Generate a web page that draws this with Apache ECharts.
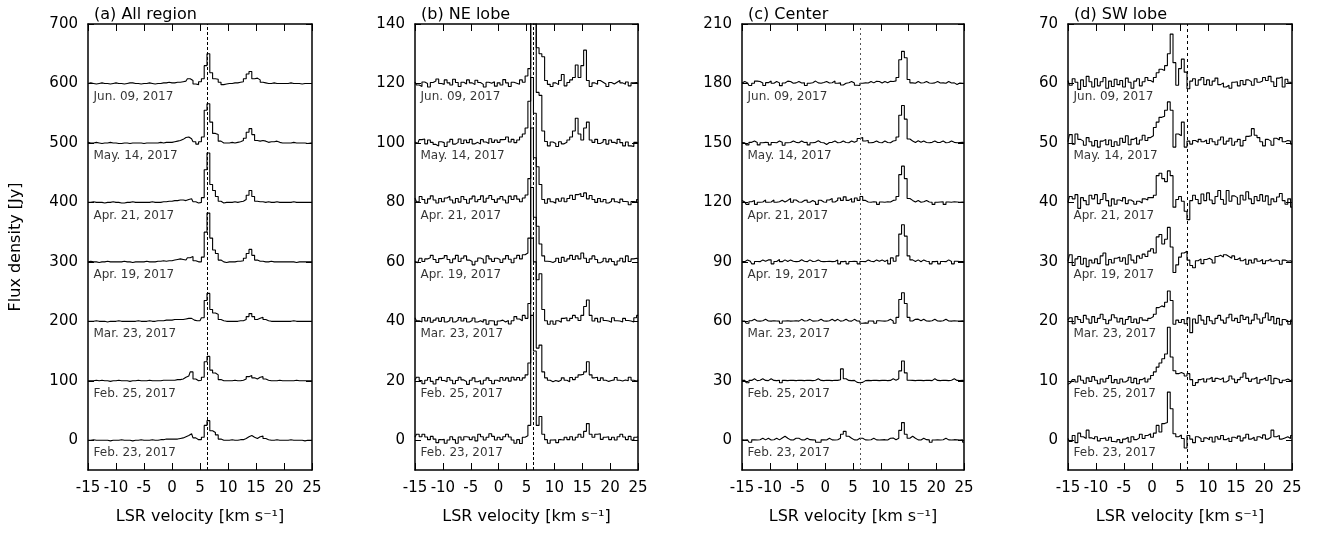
<!DOCTYPE html>
<html>
<head>
<meta charset="utf-8">
<script src="https://cdn.jsdelivr.net/npm/echarts@6/dist/echarts.min.js"></script>
<style>
  html, body { margin: 0; padding: 0; background: #fff; }
  #chart { width: 1325px; height: 534px; }
</style>
</head>
<body>
<div id="chart"></div>
<script>
// velocity channels [km/s], shared by all spectra
const velocity = [
  -15, -14.5, -14, -13.5, -13, -12.5, -12, -11.5, -11, -10.5,
  -10, -9.5, -9, -8.5, -8, -7.5, -7, -6.5, -6, -5.5,
  -5, -4.5, -4, -3.5, -3, -2.5, -2, -1.5, -1, -0.5,
  0, 0.5, 1, 1.5, 2, 2.5, 3, 3.5, 4, 4.5,
  5, 5.5, 6, 6.5, 7, 7.5, 8, 8.5, 9, 9.5,
  10, 10.5, 11, 11.5, 12, 12.5, 13, 13.5, 14, 14.5,
  15, 15.5, 16, 16.5, 17, 17.5, 18, 18.5, 19, 19.5,
  20, 20.5, 21, 21.5, 22, 22.5, 23, 23.5, 24, 24.5, 25,
];

const dates = ["Feb. 23, 2017", "Feb. 25, 2017", "Mar. 23, 2017", "Apr. 19, 2017", "Apr. 21, 2017", "May. 14, 2017", "Jun. 09, 2017"];
const titles = ["(a) All region", "(b) NE lobe", "(c) Center", "(d) SW lobe"];
const refVelocity = 6.3;

// baseline shift of each date and y tick labels, per panel
const offsetsAll = [0, 100, 200, 300, 400, 500, 600];
const offsetsNE = [0, 20, 40, 60, 80, 100, 120];
const offsetsCenter = [0, 30, 60, 90, 120, 150, 180];
const offsetsSW = [0, 10, 20, 30, 40, 50, 60];
const ticksAll = [0, 100, 200, 300, 400, 500, 600, 700];
const ticksNE = [0, 20, 40, 60, 80, 100, 120, 140];
const ticksCenter = [0, 30, 60, 90, 120, 150, 180, 210];
const ticksSW = [0, 10, 20, 30, 40, 50, 60, 70];

// (a) All region [Jy]
const allFeb23 = [
  0, 0, 1, 0, 0, 0, 0, 0, -1, 0,
  0, 0, 1, 0, 0, 0, -1, 0, 0, 1,
  0, 0, 0, 1, 0, 0, 1, 1, 2, 2,
  2, 2, 2, 3, 4, 6, 8, 11, 4, 1,
  1, 5, 25, 33, 16, 13, 9, 2, 0, 0,
  0, 1, 0, 0, 1, 1, 3, 6, 8, 5,
  3, 6, 7, 3, 1, 0, 0, 1, 0, 0,
  0, 0, 1, 0, 0, 0, 0, -1, 0, 0, 0,
];
const allFeb25 = [
  0, 0, 0, 1, 0, 1, 0, 0, -1, 0,
  0, 1, 0, 0, 0, -1, 0, 0, 1, 0,
  0, 0, 1, 0, 0, 0, 0, 1, 1, 1,
  1, 1, 2, 2, 3, 6, 8, 15, 3, 0,
  1, 6, 32, 41, 18, 13, 10, 2, 0, 0,
  0, 0, 1, 0, 0, 1, 3, 7, 9, 5,
  3, 6, 7, 3, 1, 0, 0, 0, 1, 0,
  0, 0, 0, 0, 1, 0, 0, 0, 0, 0, 0,
];
const allMar23 = [
  0, 0, 0, 1, 0, 0, 0, -1, 0, 0,
  0, 1, 0, 0, 0, 0, 0, 0, 1, 0,
  0, 0, 1, 0, 0, 1, 1, 1, 2, 2,
  2, 3, 3, 3, 3, 4, 5, 5, 2, 1,
  1, 6, 35, 47, 20, 14, 12, 3, 1, 0,
  0, 0, 0, 0, 1, 1, 3, 8, 13, 8,
  3, 5, 7, 3, 1, 0, 0, 0, 0, 0,
  0, 0, 0, 1, 0, 0, 0, 0, 0, 0, 0,
];
const allApr19 = [
  0, 1, 0, 0, -1, 0, 0, 1, 0, 0,
  0, 0, 0, 1, 0, 0, -1, 0, 0, 0,
  0, 1, 0, 0, 0, 1, 1, 2, 1, 2,
  2, 3, 4, 5, 4, 3, 7, 9, 2, 0,
  0, 8, 50, 82, 40, 20, 14, 3, 0, -1,
  0, 0, 0, 1, 1, 2, 6, 14, 21, 11,
  3, 1, 1, 0, 0, 1, 0, 0, 0, 0,
  0, 0, 0, 0, -1, 0, 0, 0, 0, 0, 0,
];
const allApr21 = [
  0, 0, 1, 0, 0, 0, -1, 0, 0, 1,
  0, 0, -1, -1, 0, 0, 1, 0, 0, 0,
  0, 0, 0, 1, 0, 0, 0, 1, 1, 2,
  2, 3, 3, 4, 4, 3, 5, 6, 1, -1,
  0, 8, 55, 83, 30, 20, 10, 2, -1, 0,
  0, 0, 1, 0, 1, 2, 5, 12, 20, 10,
  2, 1, 1, 0, 1, 0, 0, 1, 0, 0,
  0, 0, 0, 1, 0, 0, 0, 0, 0, 0, 0,
];
const allMay14 = [
  1, 0, 0, 1, 0, -1, 0, 0, 1, 0,
  0, -1, -1, 0, 0, -1, 0, 0, 0, 0,
  -1, 0, 0, 0, 0, 0, 1, 0, 1, 1,
  1, 2, 3, 4, 6, 9, 10, 7, 2, -2,
  2, 10, 55, 66, 35, 16, 14, 3, 0, 0,
  0, 1, 0, 1, 2, 4, 8, 18, 24, 14,
  4, 3, 4, 3, 1, 2, 2, 3, 1, 0,
  0, 0, 0, 1, 0, 0, 0, 0, -1, 0, 0,
];
const allJun09 = [
  0, 1, 0, -1, 0, 1, 0, 0, -1, 0,
  1, 0, 0, -1, 0, 1, 1, 0, 0, -1,
  0, 0, 1, 0, -1, 0, 0, 1, 1, 2,
  1, 1, 2, 2, 3, 4, 8, 5, -1, -2,
  3, 8, 30, 50, 18, 8, 7, 2, -2, -1,
  0, 0, 1, 1, 2, 3, 8, 16, 20, 8,
  9, 6, 2, 1, 0, 0, 1, 0, 0, 0,
  0, 0, 1, 0, 0, 0, -1, 0, 0, 0, 0,
];

// (b) NE lobe [Jy]
const neFeb23 = [
  1, 2, 1.2, 2, 1.1, 0.2, 1.3, 0.4, -0.8, 0.2,
  0.3, -1, 0.1, 1.2, 0.2, -1, 1.1, 0.1, 1.2, 1,
  0.2, 1.1, -0.2, 2, 1.2, 0.1, 1, 2.2, 1.3, 0.1,
  1, 0.2, 1.2, 2, 1.1, 0.1, -1, 0.2, -1.1, 1,
  1.5, 5, 42, 30, 5, 8, 2, 0.2, -1, 0.1,
  0.2, -0.8, 0.2, 0.1, 1, 0.2, 1.2, 0.1, 1, 2,
  1, 3, 5.6, 2, 1, 2, 2.2, 0.3, 1, 1.2,
  0.2, 1, 0.1, 1.2, 2, 1.1, 0.2, 1.3, 0.1, 1, 1.2,
];
const neFeb25 = [
  0.3, 1.2, 0.1, -1, 0.2, 1.1, -0.2, -1.1, 0.4, 1.2,
  0.1, -0.3, 1.1, 0.2, -1, 0.1, 1.2, 0.3, -0.2, -1.2,
  0.2, 1, -0.3, 0.1, -1.1, 0.2, 1, 0.1, -1, 0.2,
  -0.2, 1.1, 0.2, 1, -0.1, 1.2, 0.3, 1.1, 0.2, 1,
  2, 6, 48, 40, 11, 12, 3, 1, 0.2, -0.3,
  0.1, -0.2, 0.3, 1, 0.2, -0.3, 1.1, 0.4, 1.2, 2,
  2.2, 3, 6.4, 2, 1, 1.2, 0.1, 1, 0.2, -0.2,
  0.1, 0.3, 1.1, 0.2, -0.1, 0.3, 0, 1.2, 0.2, -0.1, 0.3,
];
const neMar23 = [
  1.2, 0.2, -0.2, 1.3, 0.1, 1.2, -0.3, 0.4, 1.1, 0,
  1.3, -0.2, 0.3, 1.2, -0.2, 0.4, 1.3, 0.1, 1, -0.2,
  0.3, 1.1, -0.2, 0.2, -0.3, 0.5, -1, 0.2, 0.1, -1.2,
  0.1, 0.4, -0.2, 0.3, -0.9, 0.2, 1.6, 0.8, 0.2, 2,
  1, 6, 45, 35, 14, 16, 4, 0.2, -1, 0.1,
  -1, 0.2, -0.3, 1, 1.2, 0.2, 1, 2, 1.2, 0.3,
  2, 5, 7.2, 2, 0.1, 1, -0.2, 1.2, 0.3, 0.1,
  -0.3, 1.2, 0.2, 0.1, -0.2, 1, 0.3, 0.1, -0.2, 1.2, 2,
];
const neApr19 = [
  0.2, -0.3, 1.2, 0.1, 1, 1.4, 2.2, 0.8, -0.2, 1.1,
  1.3, 2.1, 0.8, -0.3, 1, 2.2, 0.1, 1.2, 2, 0.6,
  0.1, -1, 0.2, 1.3, 0.9, -0.4, 2, 1, 0.1, 1.2,
  0.8, -0.2, 1, 2.1, 0.9, -0.3, 1.2, 2.2, 1, 2.4,
  3, 8, 45, 35, 12, 6, 2, 0.2, 0.1, -0.2,
  0.3, 1.2, -0.2, 1.5, 0.2, 1, 2.2, 0.8, 2, 1,
  3, 1.2, -0.2, 1, 2, 0.8, -0.3, 0.2, 1.2, 0,
  1, 0.1, -1, 0.3, 1.2, 0, 2, 0.1, 1, 1.2, 1,
];
const neApr21 = [
  1.5, 0.2, 2, 1, -0.3, 1.2, 2.2, 0.8, -0.2, 1.3,
  0.2, 1.5, 2.1, 0.8, -0.2, 1.3, 0.1, 2, 1, -0.3,
  1.2, 2.1, 0.2, 1, 2.2, 0.1, 1.4, 2.3, 1, 0,
  1.2, 2, 0.8, -0.2, 2.1, 1, 2.2, 1.1, 0.2, 1.5,
  2.5, 8, 42, 30, 12, 6, 1, -0.3, 1.2, 0.2,
  -0.3, 1.2, 0.4, 1.5, 0.2, 1.3, 2.4, 1, 2.6, 3,
  2, 3.2, 1.2, 2.3, 1, 0, 1.3, 0.2, 1, -0.2,
  0.4, 1.2, 0.2, -0.2, 1.1, 0.3, 0.2, -0.8, 0.3, 0.1, 1,
];
const neMay14 = [
  0.3, -0.2, 1.1, 1.3, -0.3, 1, 0.2, -0.5, -1, 0.4,
  0.1, -1.2, 0.3, 1.2, -0.4, 0.2, 1.3, -0.2, 1, 0.1,
  1.2, -0.3, 0.2, -0.4, 1.1, 0.3, -0.2, 1.4, 0.2, 1,
  0.2, 1.1, 1.2, 2, 0.3, 1.2, 0.1, 1, 2, 3,
  5, 14, 45, 40, 17, 16, 4, 0.5, -1, 0.3,
  -0.2, -1.2, 0.4, -0.3, 0.2, 1, 2, 4, 8.3, 3,
  1, 5, 7, 1, 0.2, 1.2, -0.2, 0.3, 1.1, -0.4,
  1, 0.2, -0.3, 1.2, 0.1, -1, 0.3, -1, -1.2, 0.2, 0,
];
const neJun09 = [
  0.5, -0.5, -1, 0.5, 0, -1.2, 0.3, 0.8, 1.5, 0,
  -0.3, 1.2, 0.2, -0.5, 1.4, 0.3, -1, 0.4, -0.2, 1.2,
  0.2, -0.4, 1.1, 0.3, -0.3, -1.2, 0.4, 0.1, 0.6, -0.9,
  0.2, -0.5, 1.3, 0.2, -1, 0.4, 0.1, -0.3, 1.2, 0.4,
  2.5, 5, 50, 45, 12, 10, 9, 1, -0.3, -1,
  0.2, -0.4, 1, 3, -0.8, 0.3, 1.2, 2, 6.2, 2,
  6, 11.2, 1, -1, 0.2, -0.3, 1, 0.4, -0.2, -1,
  0.3, -0.2, 0.4, 1, 0.2, -0.3, 0.5, -0.8, 0.2, 0.3, 0,
];

// (c) Center [Jy]
const cenFeb23 = [
  0.2, 0.1, 0.3, -1, 0.2, 0.1, 0.3, 1, 0.2, 1,
  0.1, 0.3, 1, 0.2, 1.1, 2, 1, 0.2, 0.1, 1,
  1, 0.2, 0.1, 1, 0.3, 0.2, 0.1, -1, -1, 0.2,
  0.1, 1, 0.2, 0.1, 0.3, 1, 3, 4.5, 2, 1,
  0.2, 0.1, 1, 1, 0.2, 0.1, 0.3, 1, 0.2, 0.1,
  0.2, 0.3, 0.1, 1, 1.1, 0.3, 1, 5, 8.9, 3,
  1, 2, 1, 0.2, 0.1, 1, 0.3, 0.2, -1, 0.1,
  0.2, 0.1, 0.3, 1, 0.2, 0.1, 0.3, 0.2, 0.1, 0.3, -1,
];
const cenFeb25 = [
  0.2, 0.3, -1, 0.2, 1, 0.1, 0.3, 1, 0.2, 0.1,
  1, 0.2, 0.1, 0.3, -1, 0.2, 0.1, 0.3, 0.2, 0.1,
  0.3, 0.2, 0.1, 0.3, 0.2, 0.1, 0.3, 1, 0.2, 0.1,
  0.3, 0.2, 0.1, 0.3, 0.2, 0.5, 6, 1, 0.2, 0.1,
  0.2, -0.8, -1, -0.8, 0.1, 0.2, 0.1, 0.3, 0.2, 0.1,
  0.2, 0.3, 0.1, 0.2, 1, 0.3, 1, 5, 10, 4,
  0.3, 0.2, 0.1, 0.3, 0.2, 0.1, 0.3, 0.2, 0.1, 1,
  0.2, 0.1, 0.3, 0.2, 0.1, 0.3, 1, 0.2, 0.1, 0.3, 0,
];
const cenMar23 = [
  0.2, 0.1, -1, 0.3, 1, 0.2, 0.1, 0.3, 1, 0.2,
  0.1, 0.3, 0.2, 0.1, -1, 0.2, 0.3, 0.1, 0.2, 0.3,
  0.1, 1, 0.2, 0.3, 1, 0.1, 0.2, 0.3, 1, 0.2,
  0.1, 0.3, 1, 0.2, 1, 0.1, 0.3, 1, 0.2, 0.1,
  1, 0.2, 0.1, -1, -0.8, -1, 0.2, 0.1, -1, 0.3,
  0.2, 0.1, 0.3, 1, 0.2, -1, 2, 11, 14.4, 9,
  2, 0.2, 1, 1.1, 0.3, 1, 0.2, 0.1, 0.3, 1,
  0.2, 0.1, 0.3, 1, 0.2, 0.1, 0.3, 0.2, 0.1, 0.3, 0,
];
const cenApr19 = [
  0.2, 0.1, 1, 0.3, -1, 0.2, 0.1, 1, 0.3, 1,
  1.1, -1, 0.2, 1.2, 0.1, 1, 0.2, 1, 0.3, 0.1,
  0.2, 1.1, 0.3, 0.1, 1, 0.2, 0.3, 1, 0.2, 0.1,
  0.2, 0.3, 0.1, 0.2, 1, -1, 0.1, 0.3, -1, 0.2,
  0.3, 0.1, -1, 0.2, 0.1, 1, 0.3, 0.1, 1, 0.3,
  1, 0.2, 1, -1, 2, 0.3, 3, 14, 18.7, 13,
  3, 1, 0.2, 1, 0.1, 1, 0.3, 0.2, -1, 0.1,
  0.3, -1, 0.2, 0.1, 1, 0.2, -1, 0.3, 0.1, 0.2, 0,
];
const cenApr21 = [
  1, 0.2, -1, 0.3, 1, -1, 0.1, 0.2, 1.2, 0.1,
  0.2, 1.2, 0.1, 0.3, 1.1, 0.2, 1, 2, 0.1, 1.2,
  0.2, 0.1, 1, 1.2, 0.1, 1, 0.2, -1, 1.1, 0.2,
  0.1, 1.2, 2, 0.2, 1.1, 2.2, 1, 2.8, 1, 2,
  0.2, 2.2, 1, 3, 1, 0.2, 0.1, 0.3, 0.2, -1,
  0.2, 0.1, 0.3, 0.2, 1, 1.2, 3, 14, 18.3, 12,
  2, 1, 0.2, 1, 0.1, 0.3, 1, 0.2, 0.1, -1,
  0.1, 0.2, 0.3, -1, 0.2, 0.1, 0.3, 0.2, 0.1, 0.2, 0,
];
const cenMay14 = [
  0.2, 0.1, -1, 0.3, 1, 0.2, -1, 0.1, 0.3, 0.2,
  -1, 0.2, 0.1, 1, 0.3, -1.2, 0.1, 0.2, 1, 0.3,
  0.1, 1, 0.2, 0.3, -1, 0.1, 0.3, 1.1, 0.2, 0.1,
  -0.8, 0.2, 0.3, 1, 0.1, 0.2, 1, 0.2, 0.1, 1,
  0.3, 1, 2.2, 2.7, 1, 1.2, 0.1, 0.3, 1, 0.2,
  0.1, 1, 0.2, 0.1, 1, 1.2, 3, 14, 18.9, 12,
  2, 1, 0.2, 1.1, 0.3, 1, 0.2, 0.1, 0.3, 1,
  0.2, 0.3, 1, 0.1, 0.2, 1, 0.3, 0.1, 0.2, 0.3, 0,
];
const cenJun09 = [
  0.2, 1, 0.3, -1, 0.1, 1.2, 1, 0.2, -1, 0.4,
  1.2, 0.1, 1, 0.3, -1.1, 0.2, 1.2, 1, 0.1, 0.3,
  1, 0.2, 0.3, -1, 0.1, 0.4, 1.2, 0.3, 0.1, 0.5,
  1, 0.2, 0.4, 1.2, 0.1, 0.3, -0.8, 0.1, 0.4, 1,
  0.2, -0.9, -1, 0.1, 0.3, 0.2, 1, 0.3, 1.1, 1,
  0.2, 1, 0.4, 1.1, 1, 1.3, 3, 12, 16.2, 13,
  2, 0.3, 0.1, 1, 0.2, 0.4, 1, 0.2, 0.1, 0.3,
  1, 0.2, 0.3, 0.1, 1, 0.2, 0.3, -0.5, 0.2, 0.1, 0,
];

// (d) SW lobe [Jy]
const swFeb23 = [
  0.3, -0.2, 0.8, -0.4, 1.2, 0.6, 0.3, 1.7, 0.4, 0.2,
  0.6, -0.1, 0.3, 0.4, 0, 0.5, -0.2, -0.3, 0.1, -0.4,
  0.2, 0.5, -0.3, 0.6, 0.1, 0.4, 1, 0.3, 0.8, 1.1,
  0.5, 1.2, 2.5, 1.4, 2.8, 3, 8.1, 5.3, 1.1, 0.6,
  0.9, 0.3, -1.3, 0.8, 0.2, -0.4, 0.6, 0.3, -0.2, 0.4,
  0.1, 0.5, -0.3, 0.6, 0.2, 0.8, 0.1, 0.4, -0.2, 0.5,
  0.3, 0.7, -0.1, 0.4, 1, 0.2, 0.5, 0, 0.6, 0.3,
  0.9, 0.2, 0.5, 1.7, 0.6, 0.8, 0.2, 0.4, 0.6, 0.3, 0.8,
];
const swFeb25 = [
  -0.6, -0.3, 0.2, -0.2, 0.8, 0.1, -0.4, 0.5, -0.1, 0.7,
  0.1, -0.5, 0.3, -0.2, 0.4, 0.9, -0.3, 0.2, -0.4, 0.3,
  -0.2, 0.1, 0.6, -0.3, 0.4, -0.5, 0.2, 0.5, -0.2, 0.3,
  0.9, 1.5, 2.3, 3, 3.7, 4.5, 9, 4, 1.7, 1.2,
  1.4, 1.2, 0.8, 1.2, 0.2, -0.8, -0.3, 0.2, 0.4, -0.2,
  0.3, 0.6, -0.1, 0.4, 0.2, 0.5, -0.2, 0.1, 0.8, 0.3,
  -0.3, 0.2, 0.6, 1.3, 0.4, -0.1, 0.3, 0.6, -0.4, 0.2,
  0.5, 0.1, 0.9, -0.5, 0.4, 0.2, -0.3, 0.1, 0.3, 0, 0.2,
];
const swMar23 = [
  0.2, 0.6, -0.4, 0.8, 0.3, -0.2, 1, 0.4, -0.3, 0.8,
  -0.2, 0.5, 1.2, 0.3, -0.4, 0.2, 1.1, 0.6, -0.1, 0.5,
  -0.5, 0.3, 0.8, -0.2, 0.4, -0.3, 0.6, 0.2, 0.1, 0.5,
  0.8, 1.2, 2.3, 2.6, 2.4, 3.2, 5.1, 3.5, -0.5, 0.2,
  -0.2, 0.3, -0.4, 0.6, -1.9, 0.4, -0.3, 1, 0.2, -0.5,
  0.8, 0.1, -0.4, 0.5, 1, 0.2, -0.3, 0.6, 1.2, 0.1,
  0.5, -0.2, 1, 0.3, 0.7, -0.4, 0.2, 1.2, 0.4, -0.3,
  0.6, 1.4, 0.2, 0.8, -0.4, 0.5, -0.6, 0.3, 0.1, -0.5, 0.2,
];
const swApr19 = [
  0.1, 1.2, -0.6, 0.5, 0.9, -0.4, 0.6, -0.8, 0.3, -0.2,
  0.5, -0.3, 1, 1.5, -0.5, 0.4, -0.2, 0.6, 0.8, 0.1,
  0.7, -0.4, 1.2, 0.3, -0.2, 1, 0.6, 1.3, 0.9, 1.8,
  2.2, 1.5, 4.2, 4.6, 3, 3.8, 5.8, 2.5, -1.8, -0.5,
  0.8, 1.5, 1.8, 0.3, -0.6, -1, 0.2, 0.5, -0.3, 0.4,
  0.6, 0.3, -0.2, 0.9, 1.1, 0.8, 1.2, 0.9, 0.6, 1,
  0.4, 0.7, 0.2, 0.5, -0.4, 0.3, -0.2, 0.5, 0.1, 0.4,
  -0.3, 0.2, 0.5, 0.1, 0.3, 0.2, -0.4, 0.3, 0.1, 0.2, 0,
];
const swApr21 = [
  0, 1, 0.6, 1.3, -1, 0.8, 0.3, -0.4, 1.2, 0.6,
  1.3, -0.2, 0.5, 1.5, 0.3, -0.6, 0.6, -0.3, 0.4, 0.2,
  0.8, -0.2, 0.4, 0.1, -0.3, 0.2, -0.1, 0.6, 0.4, 0.8,
  0.8, 1.2, 4.5, 4.9, 4, 3.5, 5.3, 4.5, -0.8, 0.5,
  1, 0.2, -1.5, -2.9, 0.3, 1.2, 0.5, -0.2, 1.4, 0.3,
  1.6, 0.4, -0.2, 1, 2, 0.5, -0.3, 2, 0.2, 1.1,
  0.8, -0.3, 1.2, 0.4, 1.8, 0.6, -0.2, 1, 0.3, 1.3,
  0.2, 1.1, -0.4, 0.6, 0.1, 0.9, 1.5, 0.3, -0.3, 0.6, -0.8,
];
const swMay14 = [
  0.2, 1.4, -0.2, 1.5, 0.6, 0.3, -0.4, 0.9, 0.2, -0.5,
  0.4, -0.7, 0.3, 0.6, -0.3, 0.5, -0.6, 0.2, -0.4, 0.8,
  0.1, 1.2, -0.3, 0.6, 0.9, -0.2, 0.5, 1.3, 0.4, 0.9,
  1.2, 2.6, 3.5, 4.3, 4.5, 5.5, 6.9, 5.5, -0.7, 1.5,
  1.2, 3.5, -0.7, 0.3, -0.2, 0.4, 0.1, 0.6, 0.2, 0.5,
  -0.1, 0.7, 0.2, -0.3, 0.5, 1, -0.2, 0.3, 0.8, -0.4,
  0.2, 0.6, -0.5, 0.4, 1.1, 1.2, 2.4, 1.3, 0.9, 0.2,
  -0.5, 0.6, 0.3, -0.4, 0.8, 0.5, 0.9, 0.2, 0.4, 0.3, -0.2,
];
const swJun09 = [
  0.5, -0.3, 0.8, 0.2, -1, 0.6, -0.5, 1.2, 0.3, -0.6,
  0.8, -0.4, 0.3, 1, -0.8, 0.4, -0.5, 0.7, -0.2, 0.5,
  -0.6, 0.9, 0.2, -0.8, 0.4, 0.8, -0.4, 0.3, 1, 0.5,
  0.2, 1, 1.8, 2.4, 2.2, 3, 5, 8.3, 3.5, -0.3,
  2.5, 4.1, 1.9, -0.9, 0.4, 0.8, -0.3, 0.6, 1, -0.2,
  0.6, -0.3, 0.4, 0.9, -0.2, 0.1, -0.6, -0.3, -0.8, 0.2,
  0.3, -0.4, 0.5, -0.2, 0.6, 0.3, -0.3, 0.8, 0.2, 0.4,
  1, 0.5, 1.2, 0.3, -0.5, 0.9, 1.1, -0.6, 0.7, 0.2, 0,
];

const FONT = "DejaVu Sans";

const panels = [
  { title: titles[0], spectra: [allFeb23, allFeb25, allMar23, allApr19, allApr21, allMay14, allJun09],
    offsets: offsetsAll, ticks: ticksAll, yMin: -50, yMax: 700, left: 88, width: 224, dash: [3, 2], dashColor: "#000" },
  { title: titles[1], spectra: [neFeb23, neFeb25, neMar23, neApr19, neApr21, neMay14, neJun09],
    offsets: offsetsNE, ticks: ticksNE, yMin: -10, yMax: 140, left: 415, width: 223, dash: [3, 2], dashColor: "#000" },
  { title: titles[2], spectra: [cenFeb23, cenFeb25, cenMar23, cenApr19, cenApr21, cenMay14, cenJun09],
    offsets: offsetsCenter, ticks: ticksCenter, yMin: -15, yMax: 210, left: 742, width: 222, dash: [2, 3], dashColor: "#555" },
  { title: titles[3], spectra: [swFeb23, swFeb25, swMar23, swApr19, swApr21, swMay14, swJun09],
    offsets: offsetsSW, ticks: ticksSW, yMin: -5, yMax: 70, left: 1068, width: 224, dash: [3, 3], dashColor: "#000" },
];

const grids = [];
const xAxes = [];
const yAxes = [];
const series = [];
const titleList = [];

const axisLine = { show: true, onZero: false, lineStyle: { color: "#000", width: 1.5 } };

panels.forEach((p, i) => {
  grids.push({ left: p.left, top: 24, width: p.width, height: 446, containLabel: false });
  titleList.push({
    text: p.title, left: p.left + 1, top: 2,
    textStyle: { fontFamily: FONT, fontSize: 16, fontWeight: "normal", color: "#000" },
  });

  // bottom axis with labels, top axis with ticks only
  xAxes.push({
    type: "value", gridIndex: i, position: "bottom", min: -15, max: 25, interval: 5,
    axisLine: axisLine,
    axisTick: { inside: true, length: 7, lineStyle: { color: "#000" } },
    axisLabel: { fontFamily: FONT, fontSize: 15, color: "#000", margin: 11, showMinLabel: true, showMaxLabel: true },
    splitLine: { show: false },
    name: "LSR velocity [km s\u207B\u00B9]", nameLocation: "middle", nameGap: 39,
    nameTextStyle: { fontFamily: FONT, fontSize: 16, color: "#000" },
  });
  xAxes.push({
    type: "value", gridIndex: i, position: "top", min: -15, max: 25, interval: 5,
    axisLine: axisLine,
    axisTick: { inside: true, length: 7, lineStyle: { color: "#000" } },
    axisLabel: { show: false },
    splitLine: { show: false },
  });

  yAxes.push({
    type: "value", gridIndex: i, position: "left", min: p.yMin, max: p.yMax,
    axisLine: axisLine,
    axisTick: { inside: true, length: 6, customValues: p.ticks, lineStyle: { color: "#000" } },
    axisLabel: { fontFamily: FONT, fontSize: 15, color: "#000", margin: 10, customValues: p.ticks },
    splitLine: { show: false },
    name: i === 0 ? "Flux density [Jy]" : "",
    nameLocation: "middle", nameRotate: 90, nameGap: 64,
    nameTextStyle: { fontFamily: FONT, fontSize: 16, color: "#000" },
  });
  yAxes.push({
    type: "value", gridIndex: i, position: "right", min: p.yMin, max: p.yMax,
    axisLine: axisLine,
    axisTick: { inside: true, length: 6, customValues: p.ticks, lineStyle: { color: "#000" } },
    axisLabel: { show: false },
    splitLine: { show: false },
  });

  p.spectra.forEach((s, j) => {
    if (s.length !== velocity.length) throw new Error(`panel ${i} spectrum ${j}: ${s.length}`);
    const line = {
      type: "line", xAxisIndex: 2 * i, yAxisIndex: 2 * i,
      step: "middle", symbol: "none", clip: true,
      lineStyle: { color: "#000", width: 1.1 },
      data: velocity.map((v, k) => [v, s[k] + p.offsets[j]]),
    };
    if (j === 0) {
      line.markLine = {
        silent: true, symbol: ["none", "none"], label: { show: false },
        lineStyle: { color: p.dashColor, type: p.dash, width: 1 },
        data: [{ xAxis: refVelocity }],
      };
    }
    series.push(line);
  });

  // date labels under each baseline
  series.push({
    type: "scatter", xAxisIndex: 2 * i, yAxisIndex: 2 * i,
    symbolSize: 1, itemStyle: { color: "transparent" }, silent: true,
    label: {
      show: true, position: "right", distance: 5, offset: [0, 13],
      formatter: "{b}", fontFamily: FONT, fontSize: 12, color: "#000",
    },
    data: dates.map((d, j) => ({ name: d, value: [-15, p.offsets[j]] })),
  });
});

const chart = echarts.init(document.getElementById("chart"));
chart.setOption({
  animation: false,
  backgroundColor: "#fff",
  title: titleList,
  grid: grids,
  xAxis: xAxes,
  yAxis: yAxes,
  series: series,
});
</script>
</body>
</html>
